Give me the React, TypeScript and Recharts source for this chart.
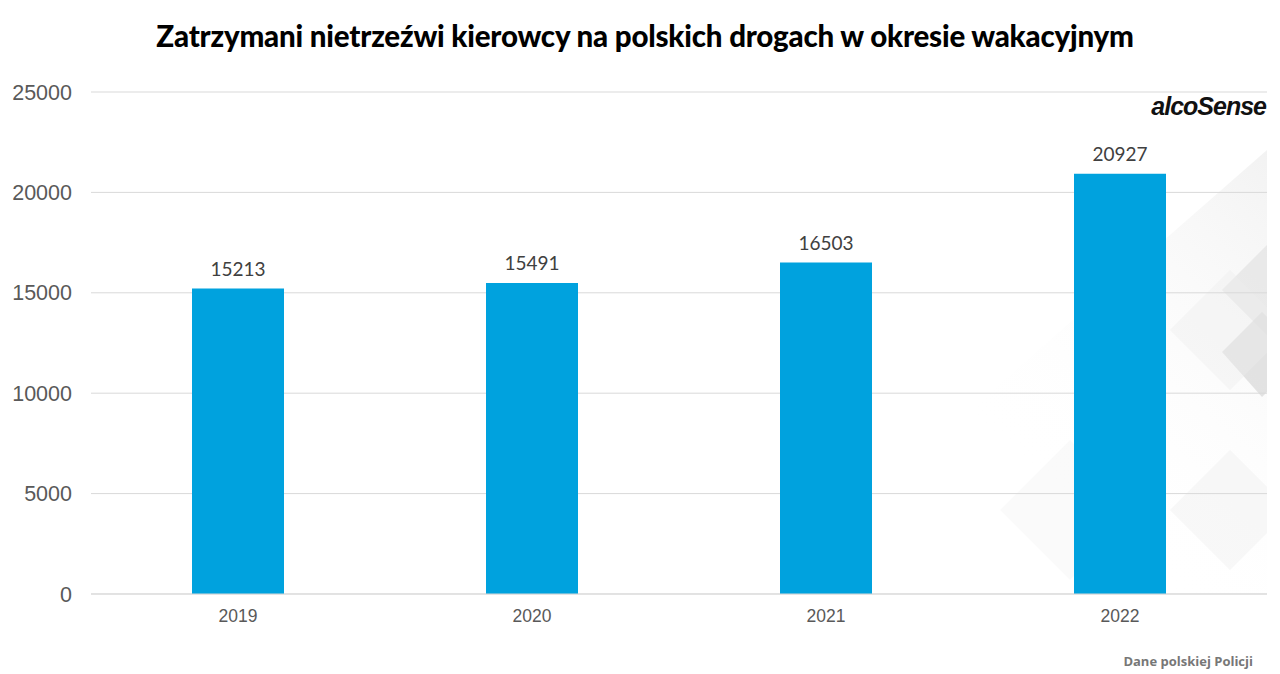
import React from "react";
import { BarChart, Bar, XAxis, YAxis, CartesianGrid, LabelList } from "recharts";

const years = ["2019", "2020", "2021", "2022"];
const drivers = [15213, 15491, 16503, 20927];
const yTicks = [0, 5000, 10000, 15000, 20000, 25000];

const data = years.map((y, i) => ({ year: y, value: drivers[i] }));

export default function App() {
  return (
    <div style={{ position: "fixed", left: 0, top: 0, width: 1280, height: 674, background: "#fff", overflow: "hidden" }}>
      <svg width={1280} height={674} style={{ position: "absolute", left: 0, top: 0 }}>
        <defs>
          <linearGradient id="bgfade" x1="0" y1="1" x2="1" y2="0">
            <stop offset="0.4" stopColor="#ffffff" stopOpacity="0" />
            <stop offset="1" stopColor="#e8e8e8" stopOpacity="1" />
          </linearGradient>
        </defs>
        <polygon points="760,594 1267,594 1267,150" fill="url(#bgfade)" opacity="0.55" />
        <polygon points="1222,290 1267,245 1267,335" fill="#e0e0e0" opacity="0.6" />
        <polygon points="1222,352 1262,312 1267,317 1267,392 1262,397" fill="#d2d2d2" opacity="0.6" />
        <polygon points="1000,510 1070,440 1140,510 1070,580" fill="#f0f0f0" opacity="0.35" />
        <polygon points="1170,330 1230,270 1267,307 1267,353 1230,390" fill="#eeeeee" opacity="0.4" />
        <polygon points="1170,510 1230,450 1267,487 1267,533 1230,570" fill="#eeeeee" opacity="0.4" />
      </svg>
      <div style={{ position: "absolute", left: 0, top: 0 }}>
        <BarChart width={1280} height={674} data={data} margin={{ top: 92, right: 13, bottom: 50, left: 0 }}>
          <CartesianGrid vertical={false} stroke="#d9d9d9" />
          <XAxis
            dataKey="year"
            height={30}
            tickLine={false}
            axisLine={{ stroke: "#d9d9d9" }}
            tick={{ fill: "#595959", fontSize: 17.5, fontFamily: "Liberation Sans, Arial, sans-serif" }}
            tickMargin={10}
          />
          <YAxis
            width={91}
            domain={[0, 25000]}
            ticks={yTicks}
            tickLine={false}
            axisLine={false}
            interval={0}
            tick={{ fill: "#595959", fontSize: 21.5, fontFamily: "Liberation Sans, Arial, sans-serif" }}
            tickMargin={13}
          />
          <Bar dataKey="value" fill="#00A2DE" barSize={92} isAnimationActive={false}>
            <LabelList dataKey="value" position="top" offset={13} fill="#404040" fontSize={19} fontFamily="Lato, 'Open Sans', sans-serif" />
          </Bar>
        </BarChart>
      </div>
      <div style={{ position: "absolute", left: 0, top: 18, width: 1290, textAlign: "center", fontFamily: "Lato, sans-serif", fontWeight: 900, fontSize: 29.5, color: "#000", letterSpacing: -0.2 }}>
        Zatrzymani nietrzeźwi kierowcy na polskich drogach w okresie wakacyjnym
      </div>
      <div style={{ position: "absolute", right: 14, top: 92, fontFamily: "Liberation Sans, Arial, sans-serif", fontWeight: 700, fontStyle: "italic", fontSize: 25, letterSpacing: -1, color: "#111" }}>
        alcoSense
      </div>
      <div style={{ position: "absolute", right: 27, top: 652, fontFamily: "'Open Sans', sans-serif", fontWeight: 700, fontSize: 13, color: "#777" }}>
        Dane polskiej Policji
      </div>
    </div>
  );
}
